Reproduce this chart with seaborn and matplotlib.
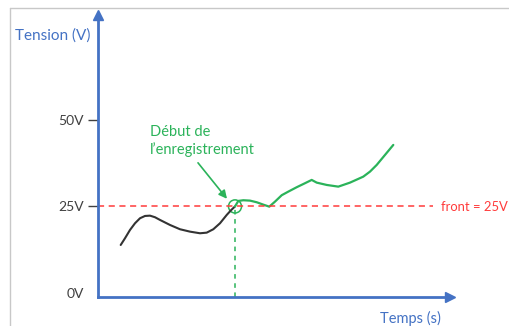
import matplotlib
matplotlib.use("Agg")
import matplotlib.pyplot as plt
from matplotlib.lines import Line2D
from matplotlib.patches import Ellipse
import pandas as pd
import seaborn as sns

# Signal before the trigger (black) and after it (green)
t_before = [2.27, 2.7, 3.2, 3.7, 4.2, 4.7, 5.2, 5.7, 6.2, 7.2, 8.2, 9.2,
            10.2, 10.87, 11.53, 12.2, 12.87, 13.3, 13.7]
v_before = [13.87, 15.81, 18.21, 20.14, 21.59, 22.25, 22.34, 21.88, 21.10,
            19.65, 18.41, 17.72, 17.25, 17.43, 18.41, 20.14, 22.54, 23.9,
            25.0]
t_after = [13.7, 14.03, 14.53, 15.2, 15.87, 16.53, 17.13, 17.7, 18.37, 19.03,
           19.87, 20.7, 21.37, 21.87, 22.87, 24.03, 25.2, 26.53, 27.2, 27.87,
           28.7, 29.53]
v_after = [25.0, 26.59, 26.79, 26.68, 26.21, 25.52, 24.94, 26.39, 28.24,
           29.28, 30.55, 31.71, 32.66, 31.88, 31.21, 30.72, 31.88, 33.61,
           35.06, 36.99, 39.88, 42.77]

threshold = 25
trigger_t = 13.7
y_ticks = [0, 25, 50]
y_tick_labels = ["0V", "25V", "50V"]
threshold_label = "front = 25V"
trigger_label = "Début de\nl’enregistrement"

BLUE = "#4472C4"
GREEN = "#2BB35A"
RED = "#FF3B3B"

sns.set_theme(style="white")
plt.rcParams["font.family"] = ["Lato", "DejaVu Sans"]

fig = plt.figure(figsize=(5.09, 3.26), dpi=100)
W, H = 509, 326
ax = fig.add_axes([98 / W, 29 / H, 352 / W, 282 / H])
ax.set_xlim(0, 35.2)
ax.set_ylim(-1.16, 80.3)

before = pd.DataFrame({"t": t_before, "v": v_before})
after = pd.DataFrame({"t": t_after, "v": v_after})
sns.lineplot(data=before, x="t", y="v", ax=ax, color="#333333", lw=1.5,
             sort=False)
sns.lineplot(data=after, x="t", y="v", ax=ax, color=GREEN, lw=1.6, sort=False)

# threshold line
ax.plot([0, 33.5], [threshold, threshold], color=RED, lw=1.1,
        dashes=(4, 3))
fig.text(441 / W, 1 - 207 / H, threshold_label, color=RED, fontsize=9.4,
         va="center", ha="left")

# trigger marker
ax.plot([trigger_t, trigger_t], [-1.16, threshold], color=GREEN, lw=1.1,
        dashes=(3, 3))
ax.add_patch(Ellipse((trigger_t, threshold), width=1.3, height=3.8,
                     fill=False, edgecolor=GREEN, lw=1.1))
ax.annotate("", xy=(12.9, 27.2), xytext=(10.0, 37.6),
            arrowprops=dict(arrowstyle="-|>", color=GREEN, lw=1.2,
                            mutation_scale=12, shrinkA=0, shrinkB=0))
fig.text(150 / W, 1 - 141 / H, trigger_label, color=GREEN, fontsize=10.5,
         ha="left", va="center", linespacing=1.3)

# axes as arrows
for side in ("top", "right"):
    ax.spines[side].set_visible(False)
for side in ("left", "bottom"):
    ax.spines[side].set_color(BLUE)
    ax.spines[side].set_linewidth(2)
ax.plot(1, 0, ">", color=BLUE, markersize=7, transform=ax.transAxes,
        clip_on=False)
ax.plot(0, 1, "^", color=BLUE, markersize=7, transform=ax.transAxes,
        clip_on=False)

ax.set_xticks([])
ax.set_yticks(y_ticks)
ax.set_yticklabels(y_tick_labels, color="#404040", fontsize=10)
ax.tick_params(axis="y", length=7, width=1, color="#404040", pad=3,
               left=True)
ax.yaxis.get_major_ticks()[0].tick1line.set_visible(False)

fig.text(410 / W, 1 - 318 / H, "Temps (s)", color=BLUE, fontsize=10.5,
         ha="center", va="center")
fig.text(15 / W, 1 - 36 / H, "Tension (V)", color=BLUE, fontsize=11,
         ha="left", va="center")
ax.set_xlabel("")
ax.set_ylabel("")
ax.set_facecolor("none")

# frame border around the figure
fig.add_artist(Line2D([10 / W, 1], [1 - 8 / H, 1 - 8 / H],
                      color="#c8c8c8", lw=1))
fig.add_artist(Line2D([10 / W, 10 / W], [0, 1 - 8 / H],
                      color="#c8c8c8", lw=1))

fig.savefig("out.png", dpi=100)
